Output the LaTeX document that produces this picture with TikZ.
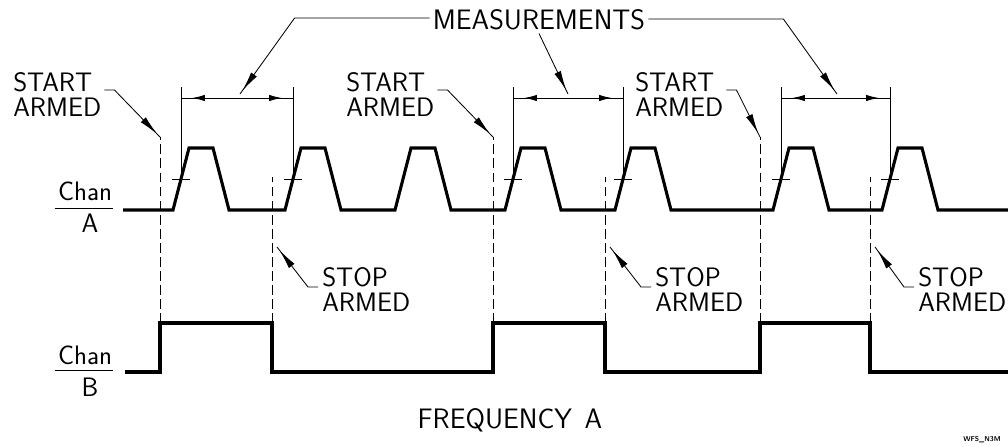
\documentclass[tikz,border=0pt]{standalone}
\usepackage{tikz}
\usetikzlibrary{positioning,arrows.meta,calc,decorations.markings}
\tikzset{
  sig/.style={line width=2.2pt,line join=miter},
  thinln/.style={line width=0.6pt},
  armln/.style={line width=0.6pt,dash pattern=on 7pt off 3pt},
  lbl/.style={font=\sffamily\fontsize{19}{18}\selectfont,inner sep=0pt,align=left},
  biglbl/.style={font=\sffamily\fontsize{20}{20}\selectfont,inner sep=0pt},
  leader/.style={line width=0.6pt,postaction={decorate},decoration={markings,
      mark=at position -3pt with {\arrow{Latex[length=14pt,width=5pt]}}}},  % plotter leader
  dimln/.style={line width=0.6pt,postaction={decorate},decoration={markings,
      mark=at position 8pt with {\arrowreversed{Latex[length=9pt,width=4.5pt]}},
      mark=at position -8pt with {\arrow{Latex[length=9pt,width=4.5pt]}}}},  % dimension line
}

\begin{document}
\begin{tikzpicture}[x=0.025cm,y=-0.025cm]
  \useasboundingbox (0,0) rectangle (1008,447);
  \def\alo{210}\def\ahi{148}\def\amid{179}
  \def\blo{372}\def\bhi{323}
  % channel A pulse train
  \draw[sig] (123,\alo) \foreach \p in {173,285,395,505,615,773,882}{
      -- (\p,\alo) -- (\p+16,\ahi) -- (\p+40,\ahi) -- (\p+56,\alo)} -- (1008,\alo);
  \foreach \p in {173,285,505,615,773,882}
    \draw[thinln] (\p-1,\amid) -- (\p+17,\amid);
  % channel B gate
  \draw[sig] (125,\blo) \foreach \u/\d [count=\i] in {160/272,493/605,760/870}{
      -- (\u,\blo) -- (\u,\bhi) coordinate (up\i) -- (\d,\bhi) coordinate (dn\i)
      -- (\d,\blo)} -- (1008,\blo);
  % armed markers
  \foreach \i in {1,2,3}{
    \path (up\i) ++(0,-186) coordinate (sa\i);
    \path (dn\i) ++(0,-146) coordinate (so\i);
    \path (dn\i) ++(5,-76) coordinate (sq\i);
    \draw[armln] (up\i) -- (sa\i);
    \draw[armln] (dn\i) -- (so\i);
  }
  % measurement dimensions
  \foreach \l/\r/\t [count=\i] in {181/293/240,513/623/568,781/890/837}{
    \draw[thinln] (\l,\amid) -- (\l,87) coordinate (ml\i);
    \draw[thinln] (\r,\amid) -- (\r,87) coordinate (mr\i);
    \coordinate (dl\i) at (\l,98);
    \coordinate (dr\i) at (\r,98);
    \coordinate (mt\i) at (\t,94);
    \draw[dimln] (dl\i) -- (dr\i);
  }
  \node[biglbl] (meas) at (539,20) {MEASUREMENTS};
  \draw[leader] ($(meas.west)+(-3,-2)$) -- ++(-135,0) -- (mt1);
  \draw[leader] ($(meas.south)+(0,3)$) -- (mt2);
  \draw[leader] ($(meas.east)+(3,-1)$) -- ++(135,0) -- (mt3);
  % start / stop labels
  \foreach \x [count=\i] in {13,346,635}{
    \node[lbl,anchor=north west] (st\i) at (\x,72) {START\\ARMED};
    \draw[leader] ($(st\i.north east)+(3,18)$) -- ++(10,0) -- (sa\i);
  }
  \foreach \x [count=\i] in {322,655,918}{
    \node[lbl,anchor=north west] (sp\i) at (\x,267) {STOP\\ARMED};
    \draw[leader] ($(sp\i.north west)+(-4,20)$) -- ++(-10,0) -- (sq\i);
  }
  % channel names
  \node[lbl] (ca) at (85,191) {Chan};
  \node[lbl] (caA) at (90,223) {A};
  \draw[thinln] ($(ca.south west)+(-3,8)$) -- ($(ca.south east)+(1,8)$);
  \node[lbl] (cb) at (85,355) {Chan};
  \node[lbl] (cbB) at (90,387) {B};
  \draw[thinln] ($(cb.south west)+(-3,6)$) -- ($(cb.south east)+(1,6)$);
  \node[biglbl] (freq) at (510,420) {FREQUENCY\hspace{9pt}A};
  \node[font=\sffamily\bfseries\fontsize{5}{5}\selectfont,inner sep=0pt] (tag) at (982,440) {WFS\_N3M};
\end{tikzpicture}
\end{document}
